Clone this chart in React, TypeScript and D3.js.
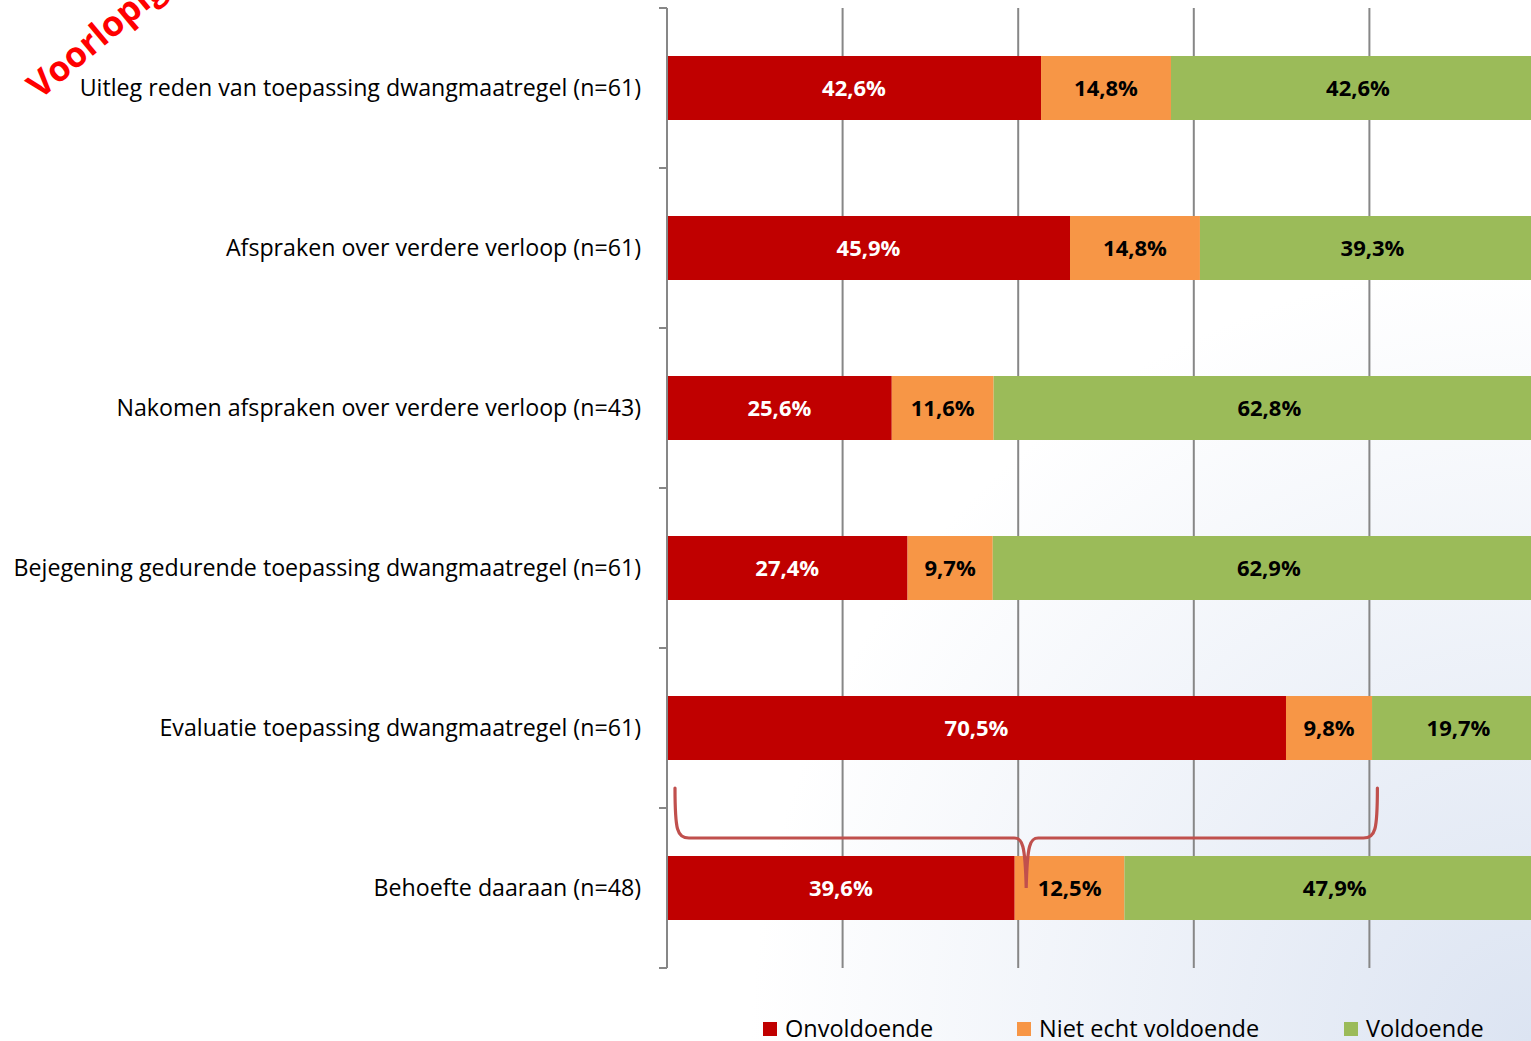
import React from "react";
import * as d3 from "d3";

const categories = [
  "Uitleg reden van toepassing dwangmaatregel (n=61)",
  "Afspraken over verdere verloop (n=61)",
  "Nakomen afspraken over verdere verloop (n=43)",
  "Bejegening gedurende toepassing dwangmaatregel (n=61)",
  "Evaluatie toepassing dwangmaatregel (n=61)",
  "Behoefte daaraan (n=48)",
];
const onvoldoende = [42.6, 45.9, 25.6, 27.4, 70.5, 39.6];
const nietEcht = [14.8, 14.8, 11.6, 9.7, 9.8, 12.5];
const voldoende = [42.6, 39.3, 62.8, 62.9, 19.7, 47.9];
const seriesNames = ["Onvoldoende", "Niet echt voldoende", "Voldoende"];
const seriesColors = ["#c00000", "#f79646", "#9bbb59"];
const labelColors = ["#ffffff", "#000000", "#000000"];
const gridTicks = [20, 40, 60, 80, 100];

const W = 1531;
const H = 1041;
const FONT = "'Open Sans', 'Noto Sans', sans-serif";

export default function App() {
  const x = d3.scaleLinear().domain([0, 100]).range([667, 1545]);
  const y = d3
    .scaleBand<string>()
    .domain(categories)
    .range([8, 968])
    .paddingInner(0.6)
    .paddingOuter(0.3);
  const step = y.step();
  const bw = y.bandwidth();

  const rows = categories.map((c, i) => ({
    cat: c,
    vals: [onvoldoende[i], nietEcht[i], voldoende[i]],
  }));
  const stacked = rows.map((r) => {
    let acc = 0;
    return r.vals.map((v, k) => {
      const s = acc;
      acc += v;
      return { k, v, x0: s, x1: acc, cat: r.cat };
    });
  });

  const boundaries = d3.range(categories.length + 1).map((i) => 8 + i * step);

  // brace annotation derived from scales
  const lastCat = categories[categories.length - 1];
  const prevCat = categories[categories.length - 2];
  const bl = x(0) + 8;
  const br = x(80) + 8;
  const bm = x(40) + 8;
  const bTop = (y(prevCat) as number) + bw + 28;
  const bMid = (y(lastCat) as number) - 18;
  const bTip = (y(lastCat) as number) + bw / 2;
  const p = d3.path();
  p.moveTo(bl, bTop);
  p.bezierCurveTo(bl, bMid - 8, bl + 2, bMid, bl + 14, bMid);
  p.lineTo(bm - 12, bMid);
  p.bezierCurveTo(bm - 4, bMid, bm - 1, bMid + 6, bm, bTip);
  p.bezierCurveTo(bm + 1, bMid + 6, bm + 4, bMid, bm + 12, bMid);
  p.lineTo(br - 14, bMid);
  p.bezierCurveTo(br - 2, bMid, br, bMid - 8, br, bTop);

  const legendX = [763, 1017, 1344];

  return (
    <svg
      width={W}
      height={H}
      style={{ position: "absolute", left: 0, top: 0, display: "block" }}
      fontFamily={FONT}
    >
      <defs>
        <radialGradient id="bg" gradientUnits="userSpaceOnUse" cx={W} cy={H} r={780}>
          <stop offset="0" stopColor="#dce4f2" />
          <stop offset="1" stopColor="#ffffff" />
        </radialGradient>
      </defs>
      <rect x={0} y={0} width={W} height={H} fill="url(#bg)" />

      {/* gridlines */}
      {gridTicks.map((t) => (
        <line
          key={t}
          x1={x(t)}
          x2={x(t)}
          y1={8}
          y2={968}
          stroke="#878787"
          strokeWidth={2}
        />
      ))}

      {/* bars */}
      {stacked.map((segs, i) => (
        <g key={i}>
          {segs.map((s) => (
            <rect
              key={s.k}
              x={x(s.x0)}
              y={y(s.cat)}
              width={x(s.x1) - x(s.x0)}
              height={bw}
              fill={seriesColors[s.k]}
            />
          ))}
          {segs.map((s) => (
            <text
              key={"t" + s.k}
              x={(x(s.x0) + x(s.x1)) / 2}
              y={(y(s.cat) as number) + bw / 2}
              dy="0.36em"
              textAnchor="middle"
              fontSize={22}
              fontWeight="bold"
              fill={labelColors[s.k]}
            >
              {s.v.toFixed(1).replace(".", ",") + "%"}
            </text>
          ))}
        </g>
      ))}

      {/* axis */}
      <line x1={667} x2={667} y1={8} y2={968} stroke="#878787" strokeWidth={2} />
      {boundaries.map((b, i) => (
        <line key={i} x1={659} x2={667} y1={b} y2={b} stroke="#878787" strokeWidth={2} />
      ))}

      {/* category labels */}
      {categories.map((c) => (
        <text
          key={c}
          x={641}
          y={(y(c) as number) + bw / 2}
          dy="0.34em"
          textAnchor="end"
          fontSize={23.2}
          fill="#000"
        >
          {c}
        </text>
      ))}

      {/* brace */}
      <path d={p.toString()} fill="none" stroke="#c0504d" strokeWidth={3.2} strokeLinecap="round" />

      {/* legend */}
      {seriesNames.map((n, k) => (
        <g key={n}>
          <rect x={legendX[k]} y={1022} width={14} height={14} fill={seriesColors[k]} />
          <text x={legendX[k] + 22} y={1037} fontSize={23.5} fill="#000">
            {n}
          </text>
        </g>
      ))}

      {/* watermark */}
      <text
        x={40}
        y={100}
        transform="rotate(-40 40 100)"
        fontSize={35}
        fontWeight="bold"
        fill="#ff0000"
      >
        Voorlopige cijfers
      </text>
    </svg>
  );
}
